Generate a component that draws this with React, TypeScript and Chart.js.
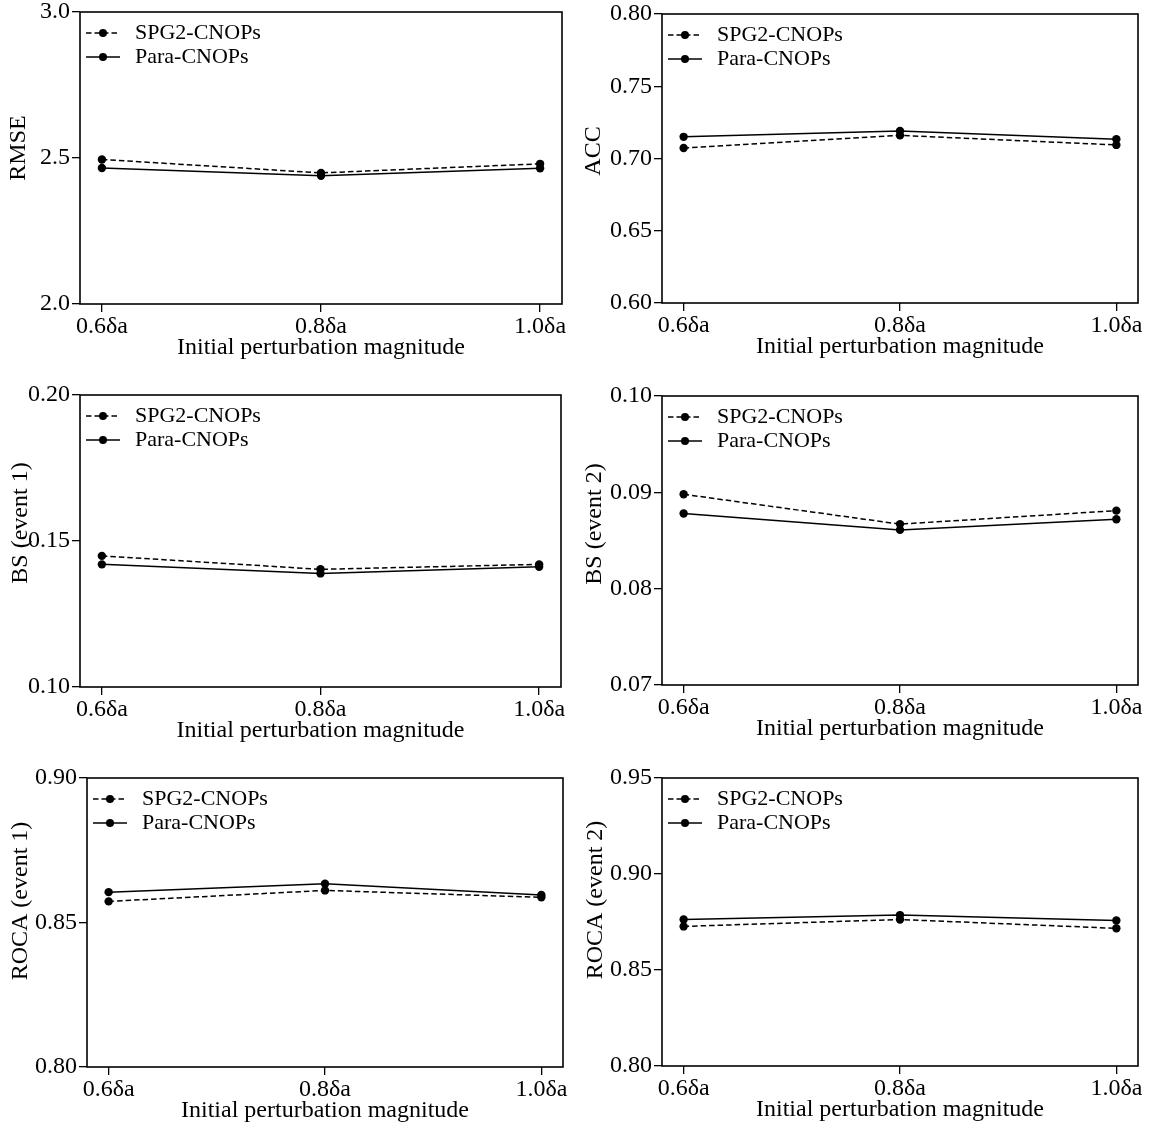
import React, { useEffect, useRef } from 'react';
import { Chart, registerables } from 'chart.js';

Chart.register(...registerables);

// ---------- data ----------
const categories = ['0.6δa', '0.8δa', '1.0δa'];
const seriesNames = ['SPG2-CNOPs', 'Para-CNOPs'];
const xTitle = 'Initial perturbation magnitude';

const rmseSPG2 = [2.495, 2.449, 2.480];
const rmsePara = [2.466, 2.439, 2.465];
const rmseTicks = [2.0, 2.5, 3.0];

const accSPG2 = [0.7073, 0.7160, 0.7094];
const accPara = [0.7150, 0.7190, 0.7134];
const accTicks = [0.60, 0.65, 0.70, 0.75, 0.80];

const bs1SPG2 = [0.1449, 0.1403, 0.1420];
const bs1Para = [0.1420, 0.1389, 0.1412];
const bs1Ticks = [0.10, 0.15, 0.20];

const bs2SPG2 = [0.0898, 0.0867, 0.0881];
const bs2Para = [0.0878, 0.0861, 0.0872];
const bs2Ticks = [0.07, 0.08, 0.09, 0.10];

const roca1SPG2 = [0.8573, 0.8611, 0.8587];
const roca1Para = [0.8605, 0.8634, 0.8595];
const roca1Ticks = [0.80, 0.85, 0.90];

const roca2SPG2 = [0.8727, 0.8763, 0.8717];
const roca2Para = [0.8763, 0.8786, 0.8758];
const roca2Ticks = [0.80, 0.85, 0.90, 0.95];

// ---------- styling / layout ----------
const FONT = "'Liberation Serif', 'Times New Roman', Times, serif";
const FS = 24;      // ticks and axis titles
const FS_LEG = 22;  // legend
const XH = 58;      // x-axis box height
const TOP_PAD = 20;
const BOTTOM_SPACE = 80;
const DASH = [5.5, 3];

type PanelCfg = {
  ylabel: string;
  spg2: number[];
  para: number[];
  yTicks: number[];
  decimals: number;
  plot: { l: number; t: number; r: number; b: number };
  ylab: { x: number; y: number };
  col: number;
};

const panels: PanelCfg[] = [
  { ylabel: 'RMSE', spg2: rmseSPG2, para: rmsePara, yTicks: rmseTicks, decimals: 1,
    plot: { l: 80, t: 12, r: 562, b: 304 }, ylab: { x: 19, y: 148 }, col: 0 },
  { ylabel: 'ACC', spg2: accSPG2, para: accPara, yTicks: accTicks, decimals: 2,
    plot: { l: 662, t: 14, r: 1138, b: 303 }, ylab: { x: 594, y: 151 }, col: 1 },
  { ylabel: 'BS (event 1)', spg2: bs1SPG2, para: bs1Para, yTicks: bs1Ticks, decimals: 2,
    plot: { l: 80, t: 395, r: 561, b: 687 }, ylab: { x: 21, y: 523 }, col: 0 },
  { ylabel: 'BS (event 2)', spg2: bs2SPG2, para: bs2Para, yTicks: bs2Ticks, decimals: 2,
    plot: { l: 662, t: 396, r: 1138, b: 685 }, ylab: { x: 595, y: 524 }, col: 1 },
  { ylabel: 'ROCA (event 1)', spg2: roca1SPG2, para: roca1Para, yTicks: roca1Ticks, decimals: 2,
    plot: { l: 87, t: 778, r: 563, b: 1067 }, ylab: { x: 21, y: 901 }, col: 0 },
  { ylabel: 'ROCA (event 2)', spg2: roca2SPG2, para: roca2Para, yTicks: roca2Ticks, decimals: 2,
    plot: { l: 662, t: 778, r: 1138, b: 1066 }, ylab: { x: 596, y: 900 }, col: 1 },
];

function makeLegendImage(dashed: boolean): HTMLCanvasElement {
  const c = document.createElement('canvas');
  c.width = 34;
  c.height = 10;
  const ctx = c.getContext('2d')!;
  ctx.strokeStyle = '#000';
  ctx.lineWidth = 1.5;
  if (dashed) ctx.setLineDash(DASH);
  ctx.beginPath();
  ctx.moveTo(0, 5);
  ctx.lineTo(34, 5);
  ctx.stroke();
  ctx.setLineDash([]);
  ctx.fillStyle = '#000';
  ctx.beginPath();
  ctx.arc(17, 5, 4, 0, Math.PI * 2);
  ctx.fill();
  return c;
}

const framePlugin = {
  id: 'frame',
  beforeDatasetsDraw(chart: any) {
    const { ctx, chartArea } = chart;
    ctx.save();
    ctx.strokeStyle = '#000';
    ctx.lineWidth = 1.6;
    ctx.strokeRect(chartArea.left, chartArea.top, chartArea.right - chartArea.left, chartArea.bottom - chartArea.top);
    ctx.restore();
  },
};

const yLabelPlugin = {
  id: 'yLabel',
  afterDraw(chart: any, _args: any, opts: any) {
    const { ctx } = chart;
    ctx.save();
    ctx.translate(opts.x, opts.y);
    ctx.rotate(-Math.PI / 2);
    ctx.font = `${FS}px ${FONT}`;
    ctx.fillStyle = '#000';
    ctx.textAlign = 'center';
    ctx.textBaseline = 'middle';
    ctx.fillText(opts.text, 0, 0);
    ctx.restore();
  },
};

function PanelChart({ p }: { p: PanelCfg }) {
  const ref = useRef<HTMLCanvasElement | null>(null);
  const left = p.col === 0 ? 0 : 578;
  const width = p.col === 0 ? 578 : 579;
  const top = p.plot.t - TOP_PAD;
  const height = p.plot.b - p.plot.t + TOP_PAD + BOTTOM_SPACE;

  useEffect(() => {
    if (!ref.current) return;
    const legendImgs = [makeLegendImage(true), makeLegendImage(false)];
    const font = { family: FONT, size: FS };
    const chart = new Chart(ref.current, {
      type: 'line',
      data: {
        datasets: [
          {
            label: seriesNames[0],
            data: p.spg2.map((y, i) => ({ x: i, y })),
            borderColor: '#000',
            backgroundColor: '#000',
            borderWidth: 1.5,
            borderDash: DASH,
            pointRadius: 4.2,
            pointBorderWidth: 0,
            pointBackgroundColor: '#000',
            tension: 0,
            order: 2,
          },
          {
            label: seriesNames[1],
            data: p.para.map((y, i) => ({ x: i, y })),
            borderColor: '#000',
            backgroundColor: '#000',
            borderWidth: 1.5,
            pointRadius: 4.2,
            pointBorderWidth: 0,
            pointBackgroundColor: '#000',
            tension: 0,
            order: 1,
          },
        ],
      },
      options: {
        animation: false,
        responsive: false,
        maintainAspectRatio: false,
        layout: {
          padding: {
            top: TOP_PAD,
            right: left + width - p.plot.r,
            bottom: BOTTOM_SPACE - XH,
            left: 0,
          },
        },
        scales: {
          x: {
            type: 'linear',
            min: -0.1,
            max: 2.1,
            afterBuildTicks: (s: any) => {
              s.ticks = categories.map((_, i) => ({ value: i }));
            },
            afterFit: (s: any) => {
              s.height = XH;
            },
            ticks: {
              callback: (v: any) => categories[v] ?? '',
              font,
              color: '#000',
              padding: 0,
              maxRotation: 0,
              autoSkip: false,
            },
            grid: {
              display: true,
              drawOnChartArea: false,
              drawTicks: true,
              tickLength: 8,
              color: '#000',
              lineWidth: 1.3,
            },
            border: { display: false },
            title: {
              display: true,
              text: xTitle,
              font,
              color: '#000',
              padding: { top: 0, bottom: 0 },
            },
          },
          y: {
            type: 'linear',
            min: p.yTicks[0],
            max: p.yTicks[p.yTicks.length - 1],
            afterBuildTicks: (s: any) => {
              s.ticks = p.yTicks.map((v) => ({ value: v }));
            },
            afterFit: (s: any) => {
              s.width = p.plot.l - left;
            },
            ticks: {
              callback: (v: any) => Number(v).toFixed(p.decimals),
              font,
              color: '#000',
              padding: 2,
              autoSkip: false,
            },
            grid: {
              display: true,
              drawOnChartArea: false,
              drawTicks: true,
              tickLength: 8,
              color: '#000',
              lineWidth: 1.3,
            },
            border: { display: false },
            title: { display: false },
          },
        },
        plugins: {
          tooltip: { enabled: false },
          legend: {
            display: true,
            position: 'chartArea',
            align: 'start',
            title: { display: true, text: '', font: { size: 5 }, padding: { top: 2 + TOP_PAD, bottom: 0 } },
            labels: {
              usePointStyle: true,
              pointStyleWidth: 42,
              padding: 2,
              font: { family: FONT, size: FS_LEG },
              color: '#000',
              generateLabels: (c: any) =>
                c.data.datasets.map((ds: any, i: number) => ({
                  text: ds.label,
                  pointStyle: legendImgs[i],
                  datasetIndex: i,
                  hidden: false,
                  fontColor: '#000',
                  lineWidth: 0,
                  strokeStyle: 'rgba(0,0,0,0)',
                  fillStyle: 'rgba(0,0,0,0)',
                })),
            },
          },
          // @ts-ignore
          yLabel: { text: p.ylabel, x: p.ylab.x - left, y: p.ylab.y - top },
        },
      } as any,
      plugins: [framePlugin, yLabelPlugin],
    });
    return () => chart.destroy();
  }, [p]);

  return (
    <canvas
      ref={ref}
      width={width}
      height={height}
      style={{ position: 'absolute', left, top, width, height }}
    />
  );
}

export default function App() {
  return (
    <div
      style={{
        position: 'absolute',
        left: 0,
        top: 0,
        width: 1157,
        height: 1129,
        background: '#fff',
        overflow: 'hidden',
      }}
    >
      {panels.map((p, i) => (
        <PanelChart key={i} p={p} />
      ))}
    </div>
  );
}
